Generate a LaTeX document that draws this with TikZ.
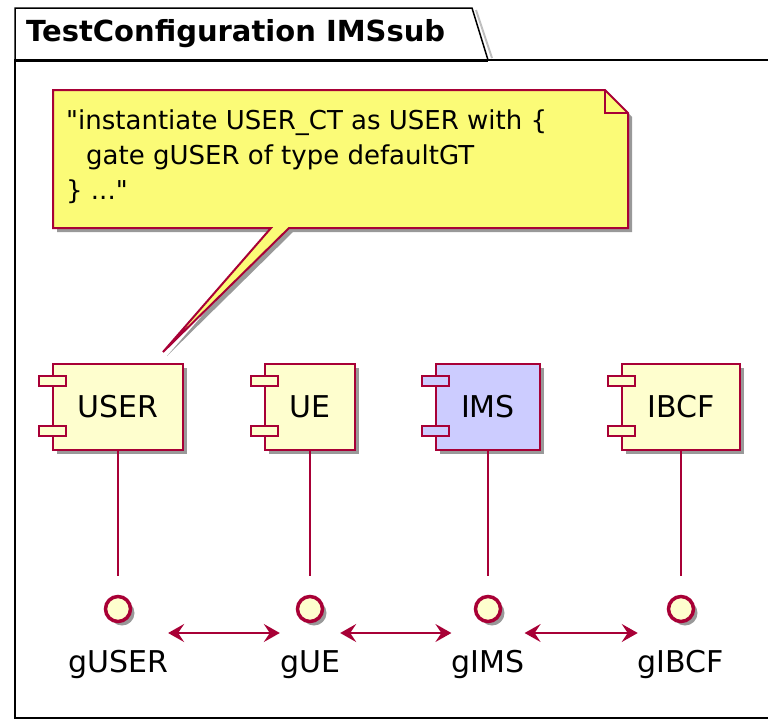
\documentclass[tikz,border=0pt]{standalone}
\usepackage{fontspec}
\newfontfamily\umlfont{DejaVu Sans}
\usetikzlibrary{shadows,arrows.meta}

\definecolor{umlborder}{HTML}{A80036}
\definecolor{umlfill}{HTML}{FEFECE}
\definecolor{notefill}{HTML}{FBFB77}
\definecolor{imsfill}{HTML}{CCCCFF}

\begin{document}
\begin{tikzpicture}[x=1pt, y=-1pt,
  shade/.style={drop shadow={shadow xshift=4pt, shadow yshift=-4pt, fill=black, opacity=0.4}},
  comp/.style={draw=umlborder, line width=2.5pt, fill=umlfill, shade,
    minimum height=86pt, inner sep=0pt, font=\umlfont\fontsize{30}{34}\selectfont},
  port/.style={draw=umlborder, line width=2.5pt, fill=umlfill},
  iface/.style={circle, draw=umlborder, line width=3.5pt, fill=umlfill, shade,
    minimum size=25pt, inner sep=0pt},
  lbl/.style={anchor=north, inner sep=0pt, font=\umlfont\fontsize{30}{34}\selectfont},
  link/.style={draw=umlborder, line width=1.8pt},
  conn/.style={draw=umlborder, line width=2pt,
    {Stealth[length=16pt, width=18pt, inset=6pt]}-{Stealth[length=16pt, width=18pt, inset=6pt]}},
  ]
  \useasboundingbox (0,0) rectangle (768,720);

  % Draw the frame and its title tab
  \draw[line width=1.5pt] (768,60) -- (15,60) -- (15,718) -- (768,718);
  \draw[gray!50, line width=2pt] (476,10) -- (492,58);
  \draw[fill=white, line width=1.5pt] (15,60) -- (15,8) -- (472,8) -- (488,60);
  \draw[line width=3pt] (15,60) -- (488,60);
  \node[anchor=west, inner sep=0pt, font=\umlfont\bfseries\fontsize{29}{32}\selectfont] (title) at (26,34) {TestConfiguration IMSsub};

  % Draw the note
  \filldraw[draw=umlborder, line width=2pt, fill=notefill, shade, line join=miter]
    (53,90) -- (605,90) -- (628,113) -- (628,228) -- (289,228) -- (163,352)
    -- (271,228) -- (53,228) -- cycle;
  \draw[draw=umlborder, line width=1.5pt] (605,90) -- (605,113) -- (628,113);
  \node[anchor=north west, align=left, inner sep=0pt, font=\umlfont\fontsize{26}{35}\selectfont] (note) at (66,110)
    {"instantiate USER\_CT as USER with \{\\\hspace*{20pt}gate gUSER of type defaultGT\\\} ..."};

  % Draw the components
  \node[comp, minimum width=130pt] (USER) at (118,407) {USER};
  \node[comp, minimum width=90pt] (UE) at (310,407) {UE};
  \node[comp, minimum width=104pt, fill=imsfill] (IMS) at (488,407) {IMS};
  \node[comp, minimum width=118pt] (IBCF) at (681,407) {IBCF};

  % Draw the ports on the left side
  \foreach \c/\f in {USER/umlfill, UE/umlfill, IMS/imsfill, IBCF/umlfill} {
    \draw[port, fill=\f] ([xshift=-13pt, yshift=31pt]\c.west) rectangle ([xshift=14pt, yshift=21pt]\c.west);
    \draw[port, fill=\f] ([xshift=-13pt, yshift=-19pt]\c.west) rectangle ([xshift=14pt, yshift=-29pt]\c.west);
  }

  % Draw the gates
  \node[iface] (pUSER) at (118,609) {};
  \node[iface] (pUE) at (310,609) {};
  \node[iface] (pIMS) at (488,609) {};
  \node[iface] (pIBCF) at (681,609) {};
  \node[lbl] (lUSER) at (118,650) {gUSER};
  \node[lbl] (lUE) at (310,650) {gUE};
  \node[lbl] (lIMS) at (488,650) {gIMS};
  \node[lbl] (lIBCF) at (681,650) {gIBCF};

  % Draw the lines from components to gates
  \draw[link, shorten >=19pt] (USER) -- (pUSER);
  \draw[link, shorten >=19pt] (UE) -- (pUE);
  \draw[link, shorten >=19pt] (IMS) -- (pIMS);
  \draw[link, shorten >=19pt] (IBCF) -- (pIBCF);

  % Draw the connections between gates
  \draw[conn] ([yshift=17pt]lUSER.north east) -- ([yshift=17pt]lUE.north west);
  \draw[conn] ([yshift=17pt]lUE.north east) -- ([yshift=17pt]lIMS.north west);
  \draw[conn] ([yshift=17pt]lIMS.north east) -- ([yshift=17pt]lIBCF.north west);
\end{tikzpicture}
\end{document}
